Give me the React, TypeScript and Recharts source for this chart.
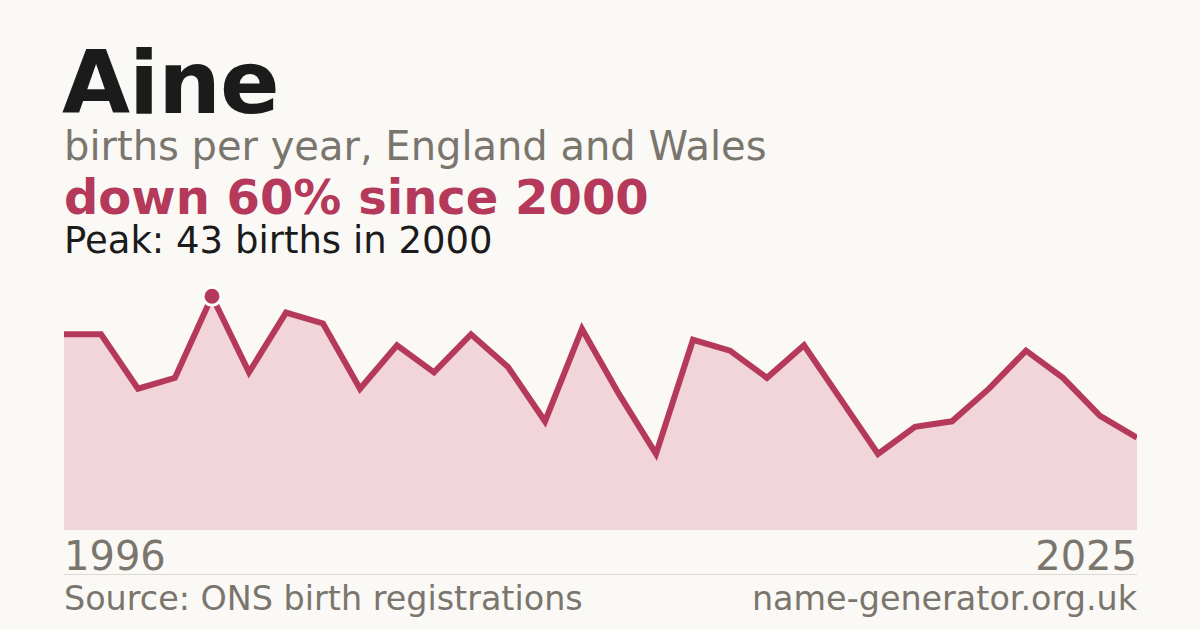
import { Area, AreaChart, ReferenceDot, XAxis, YAxis } from "recharts";

const years = [
  1996, 1997, 1998, 1999, 2000, 2001, 2002, 2003, 2004, 2005, 2006, 2007, 2008, 2009, 2010,
  2011, 2012, 2013, 2014, 2015, 2016, 2017, 2018, 2019, 2020, 2021, 2022, 2023, 2024, 2025,
];
const births = [
  36, 36, 26, 28, 43, 29, 40, 38, 26, 34, 29, 36, 30, 20, 37,
  25, 14, 35, 33, 28, 34, 24, 14, 19, 20, 26, 33, 28, 21, 17,
];
const yearTicks = [1996, 2025];
const peak = { year: 2000, births: 43 };

const RED = "#b5395a";
const GREY = "#7a756d";
const FONT = "'DejaVu Sans', sans-serif";

const rows = years.map((year, i) => ({ year, births: births[i] }));

function YearTick(props: any) {
  const { x, y, payload } = props;
  const first = payload.value === yearTicks[0];
  return (
    <text
      x={x}
      y={y}
      dy={32}
      textAnchor={first ? "start" : "end"}
      fill={GREY}
      fontSize={40}
      fontFamily={FONT}
    >
      {payload.value}
    </text>
  );
}

export default function App() {
  return (
    <div
      style={{
        position: "absolute",
        left: 0,
        top: 0,
        width: 1200,
        height: 630,
        background: "#faf9f5",
        overflow: "hidden",
      }}
    >
      <svg width={1200} height={630} style={{ position: "absolute", left: 0, top: 0 }}>
        <text x={62} y={113} fontSize={88} fontWeight="bold" fill="#1b1b1b" fontFamily={FONT} letterSpacing={-1}>
          Aine
        </text>
        <text x={64} y={160} fontSize={40} fill={GREY} fontFamily={FONT}>
          births per year, England and Wales
        </text>
        <text x={64} y={214} fontSize={48} fontWeight="bold" fill={RED} fontFamily={FONT}>
          down 60% since 2000
        </text>
        <text x={64} y={253} fontSize={37} fill="#1b1b1b" fontFamily={FONT}>
          Peak: 43 births in 2000
        </text>
        <line x1={64} x2={1137} y1={574.5} y2={574.5} stroke="#dcd9d2" strokeWidth={1} />
        <text x={64} y={610} fontSize={33.4} fill={GREY} fontFamily={FONT}>
          Source: ONS birth registrations
        </text>
        <text x={1137} y={610} fontSize={33.4} fill={GREY} fontFamily={FONT} textAnchor="end">
          name-generator.org.uk
        </text>
      </svg>
      <div style={{ position: "absolute", left: 64, top: 270 }}>
        <AreaChart
          width={1073}
          height={320}
          data={rows}
          margin={{ top: 10, right: 0, bottom: 20, left: 0 }}
          style={{ overflow: "visible" }}
        >
          <XAxis
            dataKey="year"
            type="number"
            domain={[1996, 2025]}
            ticks={yearTicks}
            axisLine={false}
            tickLine={false}
            height={40}
            tick={<YearTick />}
            interval={0}
          />
          <YAxis hide domain={[0, 46]} />
          <Area
            type="linear"
            dataKey="births"
            stroke={RED}
            strokeWidth={6}
            strokeLinejoin="miter"
            fill="#f1d5db"
            fillOpacity={1}
            isAnimationActive={false}
            dot={false}
            activeDot={false}
          />
          <ReferenceDot
            x={peak.year}
            y={peak.births}
            r={9}
            fill={RED}
            stroke="#ffffff"
            strokeWidth={3}
            ifOverflow="visible"
          />
        </AreaChart>
      </div>
    </div>
  );
}
